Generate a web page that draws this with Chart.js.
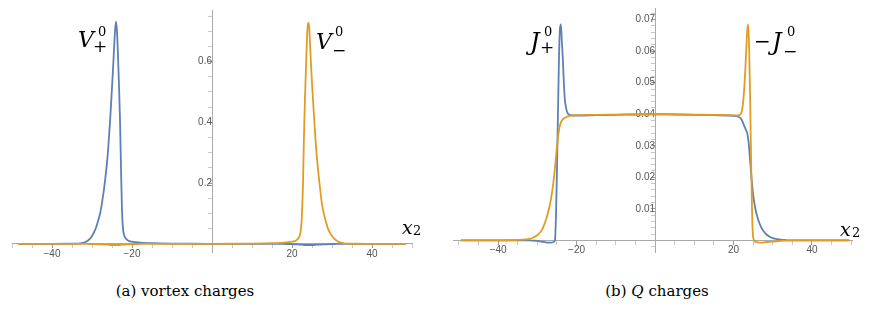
<!DOCTYPE html>
<html>
<head>
<meta charset="utf-8">
<script src="https://cdn.jsdelivr.net/npm/chart.js@4.4.1/dist/chart.umd.min.js"></script>
<style>
  body { margin: 0; background: #fff; width: 871px; height: 320px; position: relative; overflow: hidden; }
  canvas { position: absolute; top: 0; }
  .t { position: absolute; white-space: nowrap; line-height: 1; color: #000; font-family: "DejaVu Serif", serif; }
  .it { font-style: italic; }
  .cap { position: absolute; width: 300px; text-align: center; line-height: 1; font-family: "DejaVu Serif", serif; font-size: 15px; color: #000; }
</style>
</head>
<body>
<canvas id="chart-a" width="435" height="260" style="left:0"></canvas>
<canvas id="chart-b" width="431" height="260" style="left:440px"></canvas>

<!-- panel (a) labels -->
<div class="t it" style="left:78px;top:29px;font-size:22px">V</div>
<div class="t" style="left:98px;top:25px;font-size:13px">0</div>
<div class="t" style="left:93px;top:38px;font-size:17px">+</div>
<div class="t it" style="left:316px;top:31px;font-size:22px">V</div>
<div class="t" style="left:335px;top:25px;font-size:13px">0</div>
<div class="t" style="left:332px;top:42px;font-size:17px">−</div>
<div class="t it" style="left:402px;top:218px;font-size:19px">x</div>
<div class="t" style="left:413px;top:224px;font-size:13px">2</div>

<!-- panel (b) labels -->
<div class="t it" style="left:530px;top:30px;font-size:24px">J</div>
<div class="t" style="left:544px;top:25px;font-size:13px">0</div>
<div class="t" style="left:540px;top:39px;font-size:17px">+</div>
<div class="t" style="left:754px;top:31px;font-size:20px">−</div>
<div class="t it" style="left:772px;top:30px;font-size:24px">J</div>
<div class="t" style="left:787px;top:25px;font-size:13px">0</div>
<div class="t" style="left:783px;top:43px;font-size:17px">−</div>
<div class="t it" style="left:840px;top:220px;font-size:19px">x</div>
<div class="t" style="left:852px;top:226px;font-size:13px">2</div>

<div class="cap" style="left:35px;top:284px">(a) vortex charges</div>
<div class="cap" style="left:507px;top:284px">(b) <i>Q</i> charges</div>

<script>
// panel (a): vortex charges
const vortexX = [-48.5, -44, -40, -36, -34, -33, -32, -31.5, -31, -30.5, -30, -29.5, -29, -28.5, -28, -27.5, -27, -26.5, -26, -25.5, -25,
  -24.75, -24.5, -24.25, -24, -23.75, -23.5, -23.25, -23, -22.75, -22.5, -22.25, -22, -21.5, -21, -20, -18, -15, -10, -5, 0,
  5, 10, 15, 18, 20, 21, 21.5, 22, 22.25, 22.5, 22.75, 23, 23.25, 23.5, 23.75, 24, 24.25, 24.5, 24.75, 25,
  25.5, 26, 26.5, 27, 27.5, 28, 28.5, 29, 29.5, 30, 30.5, 31, 31.5, 32, 33, 34, 36, 40, 44, 48.5];
const vortexPlus = [0, 0, 0, 0.0001, 0.0005, 0.0015, 0.004, 0.007, 0.011, 0.017, 0.026, 0.038, 0.053, 0.075, 0.098, 0.135, 0.18, 0.235, 0.305, 0.40, 0.515,
  0.575, 0.64, 0.70, 0.732, 0.70, 0.62, 0.52, 0.41, 0.25, 0.11, 0.05, 0.03, 0.017, 0.011, 0.007, 0.004, 0.002, 0.0006, 0.0002, 0,
  0, 0, 0, -0.0005, -0.001, -0.002, -0.002, -0.003, -0.003, -0.003, -0.003, -0.004, -0.004, -0.004, -0.004, -0.004, -0.004, -0.004, -0.004, -0.004,
  -0.004, -0.003, -0.003, -0.003, -0.002, -0.002, -0.002, -0.001, -0.001, -0.001, -0.001, -0.0005, -0.0005, 0, 0, 0, 0, 0, 0, 0];
const vortexMinus = [0, 0, 0, 0, 0, 0, 0, -0.0005, -0.0005, -0.001, -0.001, -0.001, -0.001, -0.002, -0.002, -0.002, -0.003, -0.003, -0.003, -0.004, -0.004,
  -0.004, -0.004, -0.004, -0.004, -0.004, -0.004, -0.004, -0.004, -0.003, -0.003, -0.003, -0.003, -0.002, -0.002, -0.001, -0.0005, 0, 0, 0, 0,
  0.0002, 0.0006, 0.002, 0.004, 0.007, 0.011, 0.017, 0.03, 0.05, 0.10, 0.20, 0.36, 0.48, 0.58, 0.68, 0.728, 0.72, 0.66, 0.59, 0.53,
  0.42, 0.32, 0.245, 0.185, 0.13, 0.097, 0.072, 0.05, 0.036, 0.026, 0.018, 0.012, 0.0075, 0.0045, 0.0017, 0.0006, 0.0001, 0, 0, 0];

// panel (b): Q charges
const qX = [-49.5, -44, -40, -36, -34, -33, -32, -31, -30, -29, -28.5, -28, -27.5, -27, -26.5, -26,
  -25.75, -25.5, -25.25, -25, -24.75, -24.5, -24.25, -24, -23.75, -23.5, -23.25, -23, -22.75, -22.5, -22,
  -21, -20, -15, -10, -5, 0, 5, 10, 15, 20,
  21, 21.5, 22, 22.25, 22.5, 22.75, 23, 23.25, 23.5, 23.75, 24,
  24.25, 24.5, 24.75, 25, 25.5, 26, 26.5, 27, 27.5, 28,
  29, 30, 31, 32, 33, 34, 36, 40, 44, 49.5];
const qPlus = [0, 0, 0, 0, 0, 0, 0, -0.0001, -0.0002, -0.0004, -0.0005, -0.0006, -0.0007, -0.0007, -0.0007, -0.0006,
  -0.0004, 0.0002, 0.008, 0.022, 0.04, 0.057, 0.067, 0.0685, 0.063, 0.0575, 0.05, 0.0448, 0.0425, 0.041, 0.0399,
  0.0396, 0.0396, 0.0397, 0.0398, 0.0399, 0.04, 0.0399, 0.0398, 0.0397, 0.0395,
  0.0393, 0.039, 0.0384, 0.0378, 0.037, 0.0362, 0.0355, 0.0348, 0.034, 0.032, 0.029,
  0.025, 0.021, 0.0175, 0.0145, 0.0105, 0.0078, 0.0058, 0.0043, 0.0032, 0.0024,
  0.0013, 0.0007, 0.0004, 0.0002, 0.0001, 0, 0, 0, 0, 0];
const qMinus = [0, 0, 0, 0.0001, 0.0002, 0.0003, 0.0005, 0.0009, 0.0016, 0.003, 0.0042, 0.0058, 0.0078, 0.0102, 0.0133, 0.0175,
  0.0202, 0.0232, 0.0265, 0.0298, 0.0326, 0.0348, 0.0364, 0.0374, 0.038, 0.0384, 0.0387, 0.0389, 0.039, 0.0392, 0.0394,
  0.0396, 0.0397, 0.0398, 0.0399, 0.04, 0.04, 0.04, 0.0399, 0.0398, 0.0397,
  0.0396, 0.0397, 0.0405, 0.0418, 0.0445, 0.0485, 0.054, 0.0605, 0.0665, 0.0685, 0.06,
  0.044, 0.024, 0.008, 0.001, -0.0004, -0.0006, -0.0007, -0.0007, -0.0007, -0.0006,
  -0.0005, -0.0004, -0.0003, -0.0002, -0.0001, 0, 0, 0, 0, 0];

// tick labels shown (marks come every step)
const xTickLabels = [-40, -20, 20, 40];
const vortexYLabels = [0.2, 0.4, 0.6];
const qYLabels = [0.01, 0.02, 0.03, 0.04, 0.05, 0.06, 0.07];

const blue = '#5e81b5';
const orange = '#e19c24';
const tickFont = { family: '"Liberation Sans", sans-serif', size: 10 };

const toPoints = (xs, ys) => xs.map((x, i) => ({ x: x, y: ys[i] }));
const hasLabel = (list, v) => list.some((l) => Math.abs(l - v) < 1e-9);

const chartInit = (id, xs, plus, minus, cfg) => {
  return new Chart(document.getElementById(id), {
    type: 'line',
    data: {
      datasets: [
        { data: toPoints(xs, minus), borderColor: orange },
        { data: toPoints(xs, plus), borderColor: blue },
      ],
    },
    options: {
      responsive: false,
      animation: false,
      layout: { padding: cfg.padding },
      plugins: { legend: { display: false }, tooltip: { enabled: false } },
      elements: {
        point: { radius: 0 },
        line: { borderWidth: 1.8, cubicInterpolationMode: 'monotone', fill: false },
      },
      scales: {
        x: {
          type: 'linear',
          min: cfg.xMin,
          max: cfg.xMax,
          position: { y: 0 },
          ticks: {
            stepSize: 5,
            autoSkip: false,
            includeBounds: false,
            maxRotation: 0,
            padding: 0,
            color: '#555',
            font: tickFont,
            callback: (v) => (hasLabel(xTickLabels, v) ? (v < 0 ? '\u2212' + Math.abs(v) : String(v)) : ''),
          },
          grid: {
            drawOnChartArea: false,
            tickLength: 4,
            tickColor: (ctx) => (hasLabel(xTickLabels, ctx.tick.value) ? '#999' : '#c8c8c8'),
          },
          border: { color: '#aaa' },
        },
        y: {
          type: 'linear',
          min: cfg.yMin,
          max: cfg.yMax,
          position: { x: 0 },
          ticks: {
            stepSize: cfg.yStep,
            autoSkip: false,
            includeBounds: false,
            padding: 2,
            color: '#555',
            font: tickFont,
            callback: (v) => (hasLabel(cfg.yLabels, v) ? String(v) : ''),
          },
          grid: {
            drawOnChartArea: false,
            tickLength: 4,
            tickColor: (ctx) => (hasLabel(cfg.yLabels, ctx.tick.value) ? '#999' : '#c8c8c8'),
          },
          border: { color: '#aaa' },
        },
      },
    },
  });
};

chartInit('chart-a', vortexX, vortexPlus, vortexMinus, {
  padding: { left: 12, right: 23, top: 10, bottom: 7 },
  xMin: -50, xMax: 50,
  yMin: -0.027, yMax: 0.77, yStep: 0.05,
  yLabels: vortexYLabels,
});

chartInit('chart-b', qX, qPlus, qMinus, {
  padding: { left: 13, right: 19, top: 5, bottom: 2 },
  xMin: -51.5, xMax: 50.2,
  yMin: -0.0037, yMax: 0.0737, yStep: 0.002,
  yLabels: qYLabels,
});
</script>
</body>
</html>
